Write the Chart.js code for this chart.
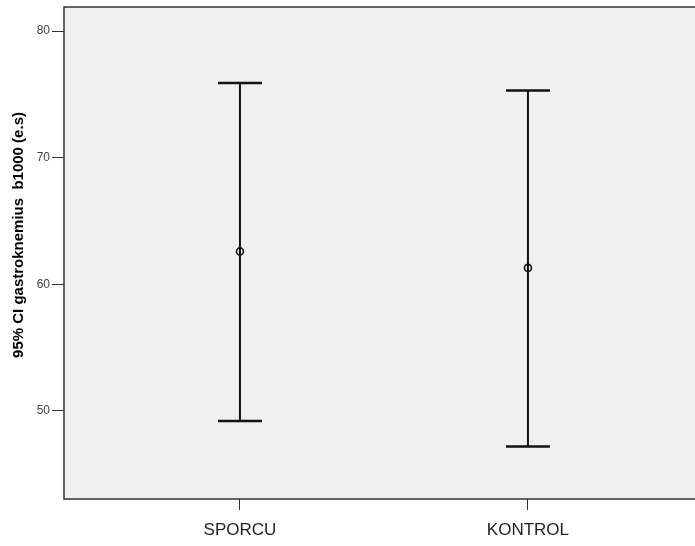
<!DOCTYPE html>
<html>
<head>
<meta charset="utf-8">
<script src="https://cdn.jsdelivr.net/npm/chart.js@4.4.1/dist/chart.umd.min.js"></script>
<style>
  html, body { margin: 0; padding: 0; background: #fff; }
  #wrap { width: 695px; height: 546px; }
</style>
</head>
<body>
<div id="wrap"><canvas id="errChart" width="695" height="546"></canvas></div>
<script>
// Gruplar ve %95 GA değerleri
const groups = ['SPORCU', 'KONTROL'];
const means = [62.6, 61.3];
const lowerCI = [49.2, 47.2];
const upperCI = [75.9, 75.3];
const yTicks = [50, 60, 70, 80];
const yTitle = '95% CI gastroknemius  b1000 (e.s)';

// her grup için dikey çizgi
const stemSets = groups.map((g, i) => ({
    type: 'line',
    data: [{ x: i, y: lowerCI[i] }, { x: i, y: upperCI[i] }],
    borderColor: '#111',
    borderWidth: 2,
    pointRadius: 0,
    showLine: true
}));

// uç çizgileri (cap)
const capSet = {
    type: 'scatter',
    data: groups.flatMap((g, i) => [{ x: i, y: lowerCI[i] }, { x: i, y: upperCI[i] }]),
    pointStyle: 'line',
    pointRadius: 22,
    pointHoverRadius: 22,
    borderColor: '#111',
    borderWidth: 2.5
};

// ortalama noktası
const meanSet = {
    type: 'scatter',
    data: groups.map((g, i) => ({ x: i, y: means[i] })),
    pointStyle: 'circle',
    pointRadius: 3.5,
    backgroundColor: '#f0f0f0',
    borderColor: '#111',
    borderWidth: 1.6
};

// çizim alanı arka planı + kenarlar
const plotFrame = {
    id: 'plotFrame',
    beforeDraw(chart) {
        const { ctx, chartArea: a } = chart;
        ctx.save();
        ctx.fillStyle = '#f0f0f0';
        ctx.fillRect(a.left, a.top, a.right - a.left, a.bottom - a.top);
        ctx.restore();
    },
    afterDatasetsDraw(chart) {
        const { ctx, chartArea: a } = chart;
        ctx.save();
        ctx.strokeStyle = '#333';
        ctx.lineWidth = 1.5;
        ctx.beginPath();
        ctx.moveTo(a.right + 2, a.top);
        ctx.lineTo(a.left, a.top);
        ctx.lineTo(a.left, a.bottom);
        ctx.lineTo(a.right + 2, a.bottom);
        ctx.stroke();
        // y ekseni başlığı
        ctx.translate(19, 235);
        ctx.rotate(-Math.PI / 2);
        ctx.fillStyle = '#000';
        ctx.font = 'bold 15px "Liberation Sans", Arial, sans-serif';
        ctx.textAlign = 'center';
        ctx.textBaseline = 'middle';
        ctx.fillText(yTitle, 0, 0);
        ctx.restore();
    }
};

function noPad(s) {
    s.paddingTop = 0; s.paddingBottom = 0;
    s.paddingLeft = 0; s.paddingRight = 0;
}

new Chart(document.getElementById('errChart'), {
    data: { datasets: [...stemSets, capSet, meanSet] },
    options: {
        responsive: false,
        animation: false,
        events: [],
        layout: { autoPadding: false, padding: { top: 7, right: 0, left: 0, bottom: 0 } },
        plugins: { legend: { display: false }, tooltip: { enabled: false } },
        scales: {
            x: {
                type: 'linear',
                min: -0.611,
                max: 1.58,
                afterBuildTicks: s => { s.ticks = groups.map((g, i) => ({ value: i })); },
                afterFit: s => { s.height = 47; noPad(s); },
                ticks: {
                    callback: v => groups[v],
                    color: '#222',
                    font: { family: '"Liberation Sans", Arial, sans-serif', size: 17 },
                    padding: 10
                },
                grid: { drawOnChartArea: false, tickLength: 11, color: '#333', lineWidth: 1 },
                border: { display: false }
            },
            y: {
                min: 43.05,
                max: 81.9,
                afterBuildTicks: s => { s.ticks = yTicks.map(v => ({ value: v })); },
                afterFit: s => { s.width = 64; noPad(s); },
                ticks: {
                    color: '#444',
                    font: { family: '"Liberation Sans", Arial, sans-serif', size: 12 },
                    padding: 2
                },
                grid: { drawOnChartArea: false, tickLength: 12, color: '#333', lineWidth: 1 },
                border: { display: false }
            }
        }
    },
    plugins: [plotFrame]
});
</script>
</body>
</html>
